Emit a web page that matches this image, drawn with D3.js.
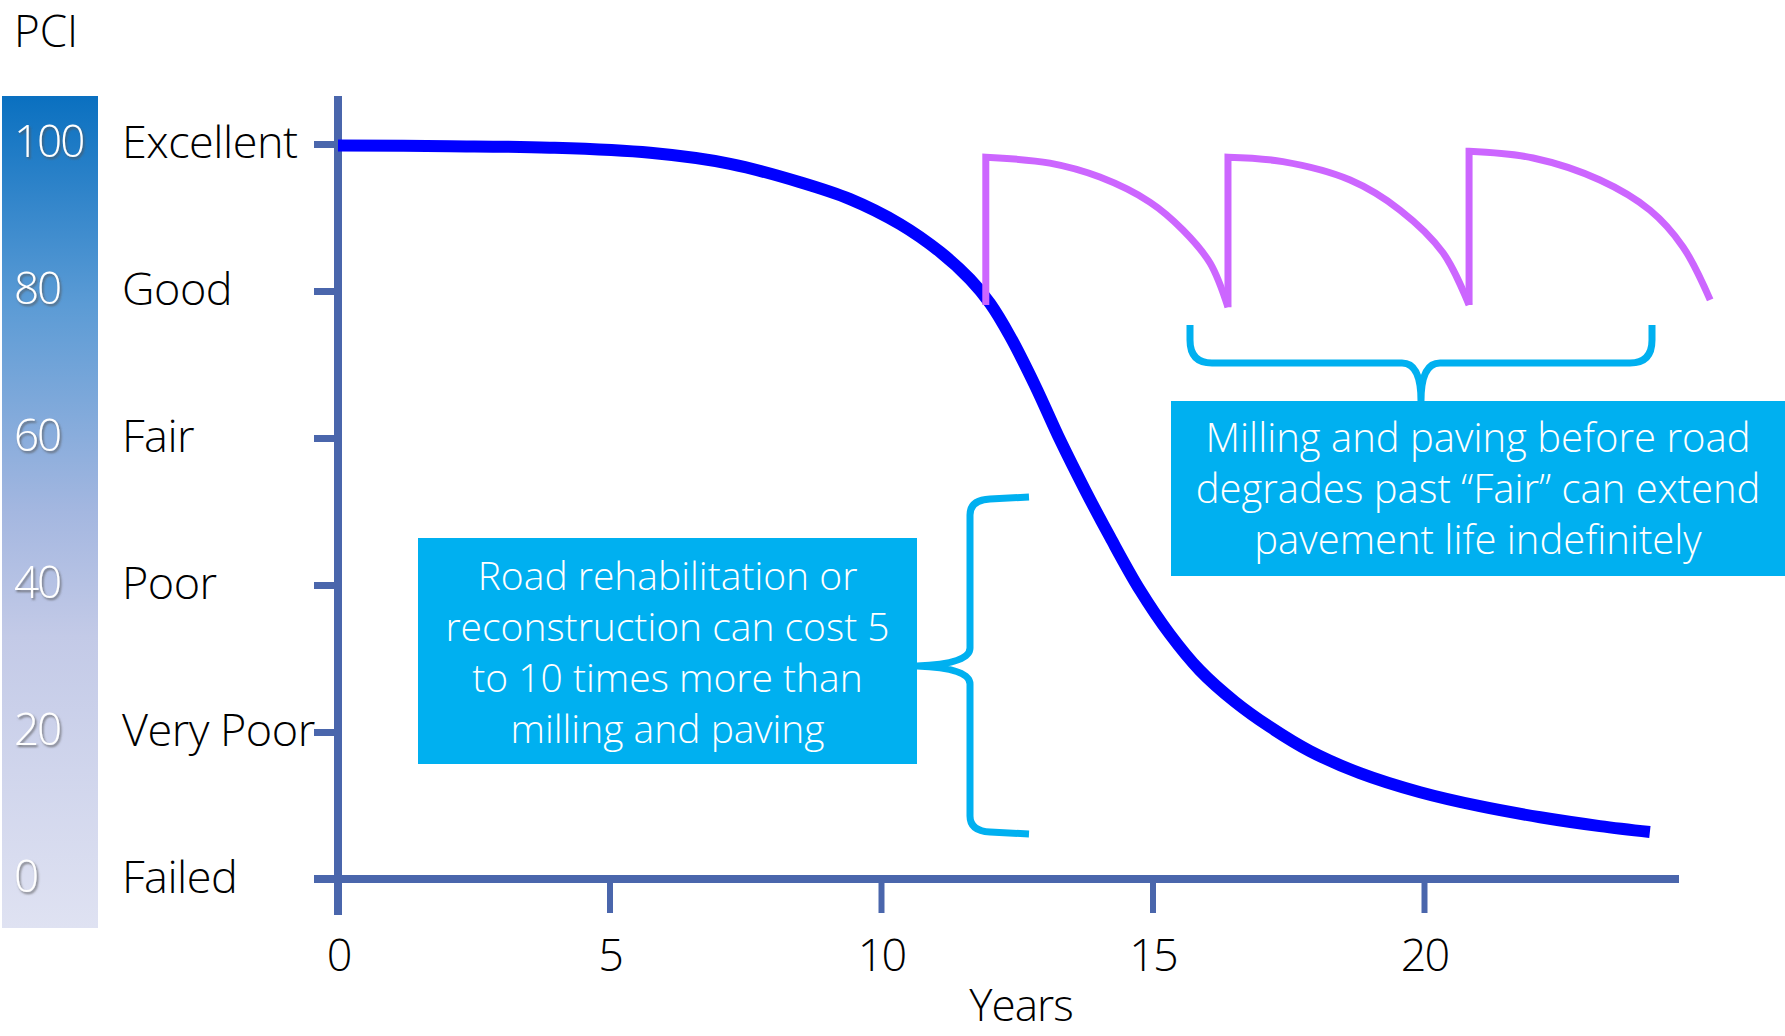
<!DOCTYPE html>
<html>
<head>
<meta charset="utf-8">
<script src="https://cdn.jsdelivr.net/npm/d3@7"></script>
<style>
  html, body { margin: 0; padding: 0; background: #ffffff; }
  svg { display: block; }
  text { font-family: "Open Sans", "Noto Sans", sans-serif; font-weight: 300; }
</style>
</head>
<body>
<svg id="chart" width="1785" height="1036"></svg>
<script>
// Pavement condition (PCI) over the life of an unmaintained road
const decayYears = [0, 2.06, 3.90, 5.75, 7.22, 8.51, 9.43, 10.35, 11.09, 11.64, 12.01, 12.38, 12.84,
                    13.30, 13.76, 14.22, 14.77, 15.32, 15.87, 16.52, 17.16, 17.90, 18.82, 19.93,
                    21.03, 22.14, 23.24, 24.16];
const decayPCI   = [99.8, 99.7, 99.5, 98.8, 97.3, 94.8, 92.5, 89.1, 85.3, 81.6, 78.3, 73.8, 67.1,
                    59.7, 52.9, 46.5, 39.3, 33.3, 28.4, 24.1, 20.7, 17.4, 14.4, 11.8,
                    9.9, 8.4, 7.2, 6.4];

// Milling-and-paving cycles: restore at the start year, then wear down again
const pavingStartYears = [11.93, 16.39, 20.83];
const pavingFloorPCI   = [78.1, 77.8, 78.1];
const pavingArcYears = [
  [11.93, 13.11, 14.03, 14.95, 15.56, 16.06, 16.39],
  [16.39, 17.40, 18.64, 19.56, 20.35, 20.83],
  [20.83, 22.01, 23.24, 24.16, 24.77, 25.27]
];
const pavingArcPCI = [
  [98.2, 97.4, 95.5, 92.1, 88.3, 83.8, 77.8],
  [98.2, 97.6, 95.1, 91.0, 85.2, 78.1],
  [99.0, 98.1, 95.1, 91.0, 86.0, 78.8]
];

// Axis labels
const pciTicks = [100, 80, 60, 40, 20, 0];
const conditionLabels = ["Excellent", "Good", "Fair", "Poor", "Very Poor", "Failed"];
const yearTicks = [0, 5, 10, 15, 20];

const noteLeft = ["Road rehabilitation or", "reconstruction can cost 5", "to 10 times more than", "milling and paving"];
const noteRight = ["Milling and paving before road", "degrades past \u201cFair\u201d can extend", "pavement life indefinitely"];

const AXIS = "#4A66AC", BLUE = "#0000FF", PINK = "#CC66FF", CYAN = "#00B0F0";

const svg = d3.select("#chart");
const x = d3.scaleLinear().domain([0, 20]).range([338, 1424]);
const y = d3.scaleLinear().domain([0, 100]).range([879, 144]);

// Colour ramp behind the PCI numbers
const defs = svg.append("defs");
const grad = defs.append("linearGradient").attr("id", "pciRamp")
  .attr("x1", 0).attr("y1", 0).attr("x2", 0).attr("y2", 1);
[["0%", "#0A70C0"], ["25%", "#5B9BD5"], ["50%", "#A4B7E0"], ["65%", "#C3CAE7"], ["100%", "#DFE2F2"]]
  .forEach(([o, c]) => grad.append("stop").attr("offset", o).attr("stop-color", c));
const shadow = defs.append("filter").attr("id", "numShadow")
  .attr("x", "-20%").attr("y", "-20%").attr("width", "150%").attr("height", "150%");
shadow.append("feDropShadow").attr("dx", 1.5).attr("dy", 2).attr("stdDeviation", 1.2)
  .attr("flood-color", "#555").attr("flood-opacity", 0.75);

svg.append("rect").attr("x", 2).attr("y", 96).attr("width", 96).attr("height", 832)
  .attr("fill", "url(#pciRamp)");

svg.append("text").attr("x", 14).attr("y", 47).attr("font-size", 44).attr("fill", "#000").text("PCI");

svg.append("g").selectAll("text").data(pciTicks).join("text")
  .attr("x", 14).attr("y", d => y(d) - 2)
  .attr("dy", "0.35em")
  .attr("font-size", 44).attr("letter-spacing", -2).attr("fill", "#fff")
  .attr("filter", "url(#numShadow)")
  .text(d => d);

svg.append("g").selectAll("text").data(conditionLabels).join("text")
  .attr("x", 122).attr("y", (d, i) => y(pciTicks[i]) - 2)
  .attr("dy", "0.35em")
  .attr("font-size", 45).attr("letter-spacing", -0.5).attr("fill", "#000")
  .text(d => d);

// Y axis ticks
const yAxis = svg.append("g").attr("transform", `translate(${x(0)},0)`)
  .call(d3.axisLeft(y).tickValues(pciTicks).tickSize(24).tickSizeOuter(0).tickFormat(""));
yAxis.select(".domain").remove();
yAxis.selectAll(".tick line").attr("stroke", AXIS).attr("stroke-width", 7);

// X axis ticks and labels
const xAxis = svg.append("g").attr("transform", `translate(0,${y(0)})`)
  .call(d3.axisBottom(x).tickValues(yearTicks).tickSize(34).tickSizeOuter(0).tickPadding(26));
xAxis.select(".domain").remove();
xAxis.selectAll(".tick line").attr("stroke", AXIS).attr("stroke-width", 6);
xAxis.selectAll(".tick text").attr("font-size", 45).attr("letter-spacing", -2).attr("fill", "#000")
  .attr("font-family", "\"Open Sans\", sans-serif").attr("font-weight", 300);

// Axis lines
svg.append("line").attr("x1", x(0)).attr("x2", x(0)).attr("y1", 96).attr("y2", 915)
  .attr("stroke", AXIS).attr("stroke-width", 8);
svg.append("line").attr("x1", 314).attr("x2", 1679).attr("y1", y(0)).attr("y2", y(0))
  .attr("stroke", AXIS).attr("stroke-width", 8);

svg.append("text").attr("x", 1021).attr("y", 1021).attr("text-anchor", "middle")
  .attr("font-size", 44).attr("letter-spacing", -1).attr("fill", "#000").text("Years");

// Deterioration curve
const line = d3.line().x(d => x(d[0])).y(d => y(d[1])).curve(d3.curveCatmullRom.alpha(0.5));
svg.append("path").datum(decayYears.map((t, i) => [t, decayPCI[i]]))
  .attr("d", line).attr("fill", "none").attr("stroke", BLUE).attr("stroke-width", 12);

// Paving cycles: vertical restoration, then wear arc
pavingStartYears.forEach((t, k) => {
  const arc = pavingArcYears[k].map((yr, i) => [yr, pavingArcPCI[k][i]]);
  const d = `M${x(t)},${y(pavingFloorPCI[k])}L` + line(arc).slice(1);
  svg.append("path").attr("d", d).attr("fill", "none").attr("stroke", PINK)
    .attr("stroke-width", 7).attr("stroke-linejoin", "miter");
});

// Braces
svg.append("path")
  .attr("d", "M1190,325 L1190,340 Q1190,363 1212,363 L1402,363 Q1421,363 1421,401 Q1421,363 1440,363 L1630,363 Q1652,363 1652,340 L1652,325")
  .attr("fill", "none").attr("stroke", CYAN).attr("stroke-width", 7);
svg.append("path")
  .attr("d", "M1029,497 L990,499 Q970,500 970,515 L970,648 Q970,664 917,666 Q970,668 970,684 L970,816 Q970,831 990,832 L1029,834")
  .attr("fill", "none").attr("stroke", CYAN).attr("stroke-width", 7);

// Note boxes
function noteBox(x0, y0, w, h, lines, firstBaseline, size) {
  svg.append("rect").attr("x", x0).attr("y", y0).attr("width", w).attr("height", h).attr("fill", CYAN);
  svg.append("g").selectAll("text").data(lines).join("text")
    .attr("x", x0 + w / 2).attr("y", (d, i) => firstBaseline + i * 51)
    .attr("text-anchor", "middle").attr("font-size", size).attr("fill", "#fff")
    .text(d => d);
}
noteBox(418, 538, 499, 226, noteLeft, 590, 39);
noteBox(1171, 401, 614, 175, noteRight, 452, 40);
</script>
</body>
</html>
